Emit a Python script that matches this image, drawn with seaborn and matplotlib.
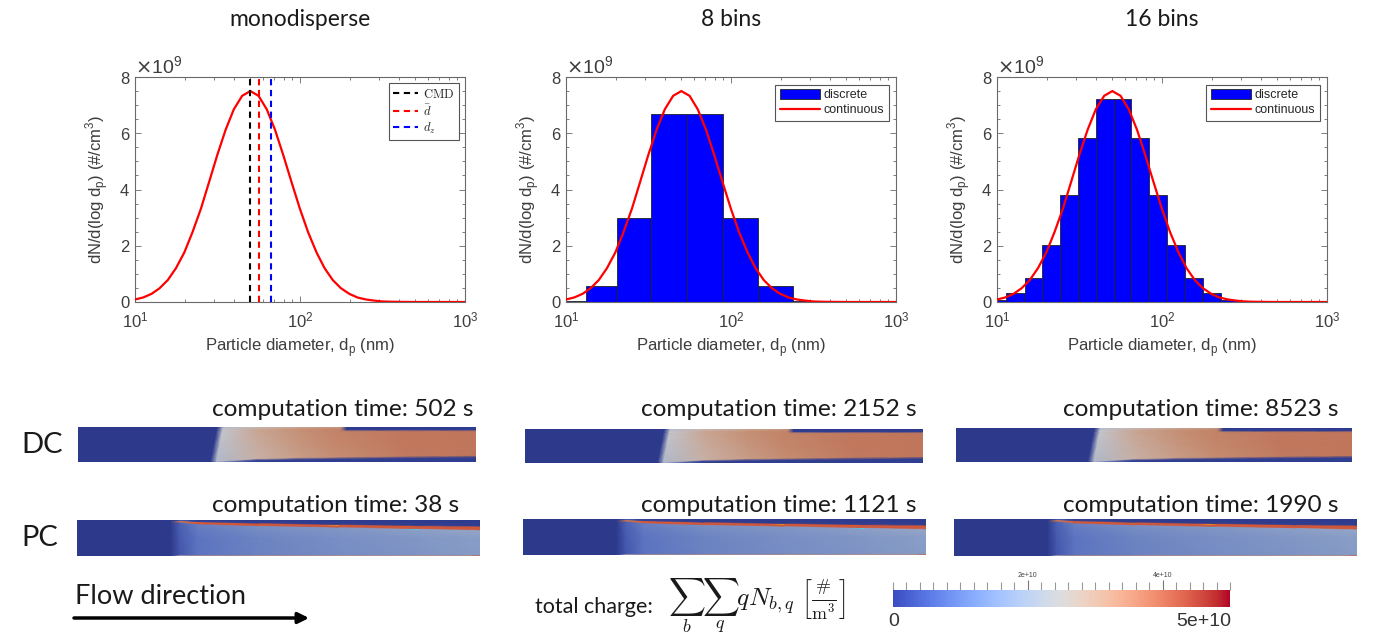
import numpy as np
import matplotlib
matplotlib.use("Agg")
import matplotlib.pyplot as plt
import seaborn as sns
from matplotlib.colors import LinearSegmentedColormap, Normalize
from matplotlib.cm import ScalarMappable
from matplotlib.lines import Line2D
from matplotlib.patches import Patch
from matplotlib.ticker import ScalarFormatter, MultipleLocator, FixedLocator

# ---------------- data ----------------
PANEL_TITLES = ["monodisperse", "8 bins", "16 bins"]
X_LABEL = r"Particle diameter, d$_\mathregular{p}$ (nm)"
Y_LABEL = r"dN/d(log d$_\mathregular{p}$) (#/cm$^\mathregular{3}$)"
Y_UNIT = 1e9  # values below are in units of 1e9 #/cm^3

# continuous size distribution (red curve), read at points along the curve
CURVE_D_NM = [10.0, 11.2, 12.6, 14.1, 15.8, 17.7, 19.9, 22.3, 25.1, 28.1, 31.5,
              35.4, 39.7, 44.6, 50.0, 56.1, 62.9, 70.6, 79.2, 88.9, 99.8, 112.0,
              126.0, 141.0, 158.0, 177.0, 199.0, 223.0, 251.0, 281.0, 315.0,
              354.0, 397.0, 500.0, 700.0, 1000.0]
CURVE_N = [0.09, 0.16, 0.29, 0.49, 0.78, 1.20, 1.76, 2.48, 3.32, 4.26, 5.22,
           6.12, 6.85, 7.33, 7.50, 7.33, 6.85, 6.12, 5.22, 4.26, 3.32, 2.48,
           1.76, 1.20, 0.78, 0.49, 0.29, 0.16, 0.09, 0.05, 0.02,
           0.01, 0.005, 0.0, 0.0, 0.0]

# characteristic diameters (dashed lines, monodisperse panel)
MEAN_D_NM = [49.8, 56.4, 66.7]
MEAN_LABELS = [r"$\mathrm{CMD}$", r"$\bar{d}$", r"$d_z$"]
MEAN_COLORS = ["black", "red", "blue"]

# discrete bins
BIN8_EDGES_NM = [8.2, 13.2, 20.4, 32.7, 54.1, 89.5, 146.0, 238.0, 385.0]
BIN8_N = [0.03, 0.57, 3.0, 6.7, 6.7, 3.0, 0.57, 0.03]
BIN16_EDGES_NM = [6.93, 8.89, 11.4, 14.7, 18.8, 24.1, 31.0, 39.7, 50.9, 65.3,
                  83.9, 107.6, 138.0, 177.4, 227.5, 291.7, 375.0]
BIN16_N = [0.01, 0.07, 0.31, 0.87, 2.03, 3.82, 5.84, 7.22, 7.22, 5.84, 3.82,
           2.03, 0.87, 0.31, 0.07, 0.01]

LEGEND_BINS = ["discrete", "continuous"]

# computation times
COMP_TIME_DC = [502, 2152, 8523]
COMP_TIME_PC = [38, 1121, 1990]
ROW_LABELS = ["DC", "PC"]

# colour bar
CHARGE_MIN = 0.0
CHARGE_MAX = 5e10
CHARGE_MAJOR = [2e10, 4e10]
CHARGE_MAJOR_LABELS = ["2e+10", "4e+10"]
CHARGE_END_LABELS = ["0", "5e+10"]

# --- simulated charge fields (fraction of CHARGE_MAX), curvilinear grid nodes ---
# DC field
DC_COL_X_BOTTOM = [0.0, 0.333, 0.348, 0.45, 0.56, 0.660, 0.675, 0.82, 1.0]
DC_COL_X_TOP = [0.0, 0.350, 0.365, 0.45, 0.56, 0.660, 0.675, 0.82, 1.0]
DC_ROW_Y = [
    [0.0, 0.0, 0.0, 0.0, 0.0, 0.0, 0.0, 0.0, 0.0],
    [0.0, 0.0, 0.0, 0.05, 0.075, 0.09, 0.092, 0.11, 0.13],
    [0.05, 0.05, 0.03, 0.10, 0.135, 0.15, 0.152, 0.175, 0.195],
    [0.5, 0.5, 0.5, 0.5, 0.5, 0.5, 0.5, 0.5, 0.5],
    [0.88, 0.88, 0.88, 0.88, 0.88, 0.88, 0.88, 0.88, 0.88],
    [0.93, 0.93, 0.93, 0.93, 0.93, 0.93, 0.93, 0.93, 0.93],
    [1.0, 1.0, 1.0, 1.0, 1.0, 1.0, 1.0, 1.0, 1.0],
]
DC_VALUES = [
    [0.0, 0.0, 0.30, 0.02, 0.02, 0.02, 0.02, 0.02, 0.02],
    [0.0, 0.0, 0.30, 0.02, 0.02, 0.02, 0.02, 0.02, 0.02],
    [0.0, 0.0, 0.45, 0.58, 0.66, 0.72, 0.72, 0.78, 0.80],
    [0.0, 0.0, 0.48, 0.60, 0.68, 0.74, 0.74, 0.79, 0.80],
    [0.0, 0.0, 0.50, 0.62, 0.70, 0.75, 0.75, 0.79, 0.80],
    [0.0, 0.0, 0.50, 0.62, 0.70, 0.75, 0.02, 0.02, 0.02],
    [0.0, 0.0, 0.45, 0.55, 0.62, 0.68, 0.0, 0.0, 0.0],
]
# PC field
PC_COL_X = [0.0, 0.232, 0.255, 0.30, 0.45, 0.65, 0.85, 0.975, 0.985, 1.0]
PC_ROW_Y = [
    [0.0, 0.0, 0.0, 0.0, 0.0, 0.0, 0.0, 0.0, 0.0, 0.0],
    [0.045, 0.045, 0.045, 0.045, 0.045, 0.045, 0.045, 0.045, 0.045, 0.045],
    [0.5, 0.5, 0.5, 0.5, 0.5, 0.5, 0.5, 0.5, 0.5, 0.5],
    [0.90, 0.90, 0.93, 0.88, 0.83, 0.79, 0.75, 0.72, 0.72, 0.71],
    [0.93, 0.93, 0.95, 0.90, 0.855, 0.815, 0.775, 0.75, 0.75, 0.74],
    [0.96, 0.96, 0.98, 0.94, 0.90, 0.865, 0.83, 0.815, 0.815, 0.81],
    [0.98, 0.98, 0.995, 0.96, 0.925, 0.89, 0.86, 0.85, 0.85, 0.845],
    [1.0, 1.0, 1.0, 1.0, 1.0, 1.0, 1.0, 1.0, 1.0, 1.0],
]
PC_VALUES = [
    [0.0, 0.0, 0.55, 0.70, 0.72, 0.72, 0.72, 0.75, 0.88, 0.90],
    [0.0, 0.0, 0.12, 0.20, 0.25, 0.29, 0.32, 0.34, 0.34, 0.34],
    [0.0, 0.0, 0.13, 0.20, 0.26, 0.30, 0.33, 0.35, 0.35, 0.35],
    [0.0, 0.0, 0.15, 0.24, 0.30, 0.33, 0.36, 0.38, 0.38, 0.38],
    [0.0, 0.0, 0.80, 0.90, 0.91, 0.91, 0.91, 0.91, 0.91, 0.91],
    [0.0, 0.0, 0.80, 0.90, 0.91, 0.91, 0.91, 0.91, 0.91, 0.91],
    [0.0, 0.0, 0.15, 0.06, 0.03, 0.02, 0.02, 0.02, 0.02, 0.02],
    [0.0, 0.0, 0.05, 0.02, 0.01, 0.0, 0.0, 0.0, 0.0, 0.0],
]

# ---------------- styling ----------------
sns.set_theme(style="ticks")
plt.rcParams['font.family'] = ['Liberation Sans', 'DejaVu Sans']

W, H = 1374, 637
fig = plt.figure(figsize=(W / 100, H / 100), dpi=100)


def px_axes(x0, y0, x1, y1, **kw):
    return fig.add_axes([x0 / W, 1 - y1 / H, (x1 - x0) / W, (y1 - y0) / H], **kw)


# overlay axes in pixel coordinates for free text / arrow
ov = px_axes(0, 0, W, H)
ov.set_xlim(0, W)
ov.set_ylim(H, 0)
ov.axis('off')
ov.patch.set_alpha(0)

CAL = ['Lato', 'DejaVu Sans']
TXT = '#1a1a1a'
AX_GRAY = '#6a6a6a'
LAB_GRAY = '#3d3d3d'

TOP_BOXES = [(135, 77, 465, 302), (566, 77, 896, 302), (997, 77, 1327, 302)]
TITLE_X = [300, 731, 1162]

bins_edges = [None, BIN8_EDGES_NM, BIN16_EDGES_NM]
bins_vals = [None, BIN8_N, BIN16_N]

for i, box in enumerate(TOP_BOXES):
    ax = px_axes(*box)
    ax.set_xscale('log')
    if bins_edges[i] is not None:
        e = np.array(bins_edges[i])
        v = np.array(bins_vals[i]) * Y_UNIT
        ax.bar(e[:-1], v, width=np.diff(e), align='edge', color='#0000ff',
               edgecolor='#222222', linewidth=0.6, zorder=2)
    sns.lineplot(x=np.array(CURVE_D_NM), y=np.array(CURVE_N) * Y_UNIT, ax=ax,
                 color='#ff0000', linewidth=1.6, zorder=3, sort=False)
    if i == 0:
        for d, c in zip(MEAN_D_NM, MEAN_COLORS):
            ax.axvline(d, color=c, linestyle=(0, (3, 2.2)), linewidth=1.5, zorder=4)
        handles = [Line2D([0], [0], color=c, linestyle=(0, (3, 2.2)), linewidth=1.5)
                   for c in MEAN_COLORS]
        leg = ax.legend(handles, MEAN_LABELS, loc='upper right', fontsize=9,
                        frameon=True, fancybox=False, framealpha=1,
                        edgecolor='#555555', borderaxespad=0.5, handlelength=2.0,
                        labelspacing=0.2, borderpad=0.35, handletextpad=0.4)
        for t in leg.get_texts():
            t.set_math_fontfamily('cm')
    else:
        handles = [Patch(facecolor='#0000ff', edgecolor='#222222', linewidth=0.6),
                   Line2D([0], [0], color='#ff0000', linewidth=1.6)]
        leg = ax.legend(handles, LEGEND_BINS, loc='upper right', fontsize=9,
                        frameon=True, fancybox=False, framealpha=1,
                        edgecolor='#555555', borderaxespad=0.6, handlelength=3.2,
                        labelspacing=0.2, borderpad=0.35, handletextpad=0.3,
                        handleheight=0.9)
    leg.get_frame().set_linewidth(0.8)

    ax.set_xlim(10, 1000)
    ax.set_ylim(0, 8 * Y_UNIT)
    ax.yaxis.set_major_locator(FixedLocator([0, 2e9, 4e9, 6e9, 8e9]))
    ax.yaxis.set_minor_locator(MultipleLocator(0.5e9))
    fmt = ScalarFormatter(useMathText=True)
    ax.yaxis.set_major_formatter(fmt)
    ax.yaxis.get_offset_text().set_fontsize(14)
    ax.yaxis.get_offset_text().set_color('#777777')
    ax.tick_params(which='both', direction='in', top=True, right=True,
                   color=AX_GRAY, labelcolor=LAB_GRAY, labelsize=12, width=0.6)
    ax.tick_params(which='major', length=4)
    ax.tick_params(which='minor', length=2)
    ax.tick_params(axis='x', which='major', pad=6)
    for s in ax.spines.values():
        s.set_color(AX_GRAY)
        s.set_linewidth(0.8)
    ax.set_xlabel(X_LABEL, fontsize=12, color=LAB_GRAY, labelpad=4)
    ax.set_ylabel(Y_LABEL, fontsize=12, color=LAB_GRAY, labelpad=6)
    ov.text(TITLE_X[i], 20, PANEL_TITLES[i], fontsize=16.5, family=CAL,
            color=TXT, ha='center', va='center')

# ---------------- charge fields ----------------
field_cmap = LinearSegmentedColormap.from_list('field', [
    (0.00, '#2d3a8c'), (0.10, '#3d4fa6'), (0.20, '#5c74c0'), (0.35, '#889dc6'),
    (0.50, '#c3c5cc'), (0.62, '#c9a694'), (0.72, '#c48b70'), (0.80, '#c0765b'),
    (0.90, '#d05a3c'), (1.00, '#c83c32')])

DC_BOXES = [(78, 427, 476, 462), (525, 429, 923, 463), (956, 428, 1352, 462)]
PC_BOXES = [(77, 520, 480, 556), (523, 519, 926, 555), (954, 519, 1357, 556)]
TEXT_LEFT = [212, 641, 1063]


def draw_field(box, xb, xt, rows_y, vals):
    ax = px_axes(*box)
    Y = np.array(rows_y, dtype=float)
    xb = np.array(xb, dtype=float)
    xt = np.array(xt, dtype=float)
    X = xb[None, :] + (xt - xb)[None, :] * Y
    ax.pcolormesh(X, Y, np.array(vals, dtype=float), shading='gouraud',
                  cmap=field_cmap, vmin=0, vmax=1)
    ax.set_xlim(0, 1)
    ax.set_ylim(0, 1)
    ax.axis('off')
    return ax


for i in range(3):
    draw_field(DC_BOXES[i], DC_COL_X_BOTTOM, DC_COL_X_TOP, DC_ROW_Y, DC_VALUES)
    draw_field(PC_BOXES[i], PC_COL_X, PC_COL_X, PC_ROW_Y, PC_VALUES)
    ov.text(TEXT_LEFT[i], 409, f"computation time: {COMP_TIME_DC[i]} s",
            fontsize=17.6, family=CAL, color=TXT, ha='left', va='center')
    ov.text(TEXT_LEFT[i], 505, f"computation time: {COMP_TIME_PC[i]} s",
            fontsize=17.6, family=CAL, color=TXT, ha='left', va='center')

ov.text(21, 445, ROW_LABELS[0], fontsize=21, family=CAL, color=TXT, ha='left', va='center')
ov.text(21, 538, ROW_LABELS[1], fontsize=21, family=CAL, color=TXT, ha='left', va='center')

# flow direction
ov.text(75, 597, "Flow direction", fontsize=19.5, family=CAL, color=TXT, ha='left', va='center')
ov.annotate('', xy=(309, 618), xytext=(74, 618),
            arrowprops=dict(arrowstyle='-|>', lw=2.5, color='black', mutation_scale=16,
                            shrinkA=0, shrinkB=0))

# total charge formula
ov.text(535, 607, "total charge:", fontsize=15.5, family=CAL, color=TXT, ha='left', va='center')
ov.text(668, 606, r"$\sum_b\sum_q qN_{b,q}\ \left[\frac{\#}{\mathrm{m}^3}\right]$",
        fontsize=18.5, math_fontfamily='cm', color=TXT, ha='left', va='center')

# colour bar
cax = px_axes(893, 590, 1230, 607)
cb = fig.colorbar(ScalarMappable(norm=Normalize(CHARGE_MIN, CHARGE_MAX), cmap='coolwarm'),
                  cax=cax, orientation='horizontal')
cb.outline.set_visible(False)
cax.xaxis.set_ticks_position('top')
cb.set_ticks(CHARGE_MAJOR)
cb.set_ticklabels(CHARGE_MAJOR_LABELS)
cax.xaxis.set_minor_locator(MultipleLocator(2e9))
cax.tick_params(which='major', direction='inout', length=14, width=0.8, color='#777777',
                labelsize=5, labelcolor='#444444', pad=1)
cax.tick_params(which='minor', direction='out', length=6, width=0.8, color='#999999')
ov.text(888, 622, CHARGE_END_LABELS[0], fontsize=14, color='#333333', ha='left', va='center')
ov.text(1231, 622, CHARGE_END_LABELS[1], fontsize=14, color='#333333', ha='right', va='center')

fig.savefig('out.png', dpi=100)
